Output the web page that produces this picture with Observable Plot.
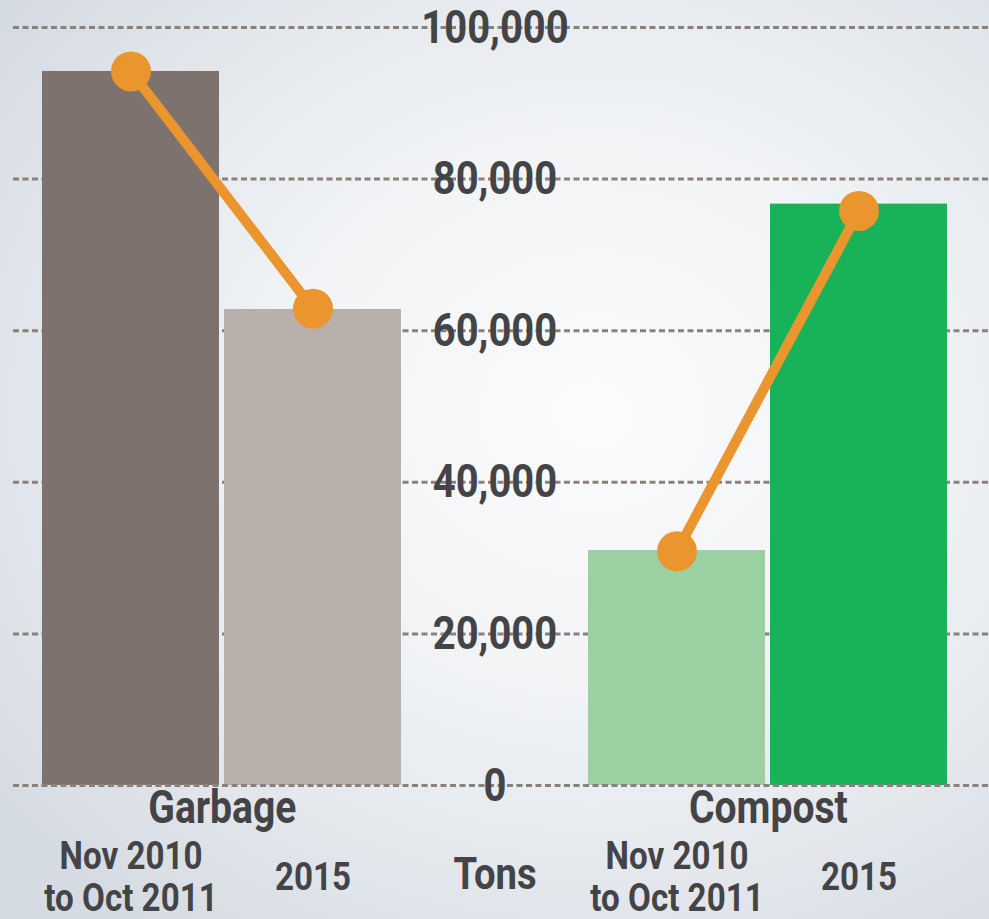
<!DOCTYPE html>
<html><head><meta charset="utf-8">
<script src="https://cdn.jsdelivr.net/npm/d3@7"></script>
<script src="https://cdn.jsdelivr.net/npm/@observablehq/plot@0.6"></script>
<style>
html,body{margin:0;padding:0;}
body{width:989px;height:919px;overflow:hidden;
background: radial-gradient(ellipse 75% 70% at 60% 45%, #fbfbfc 0%, #f2f4f6 40%, #e3e7ec 75%, #d5dbe2 100%);}
#chart svg{display:block;}
</style></head><body><div id="chart"></div>
<script>
// ---- data ----
const slots = ["g0", "g1", "mid", "c0", "c1"];
const barKeys = ["g0", "g1", "c0", "c1"];
const barGroups = ["Garbage", "Garbage", "Compost", "Compost"];
const barPeriods = ["Nov 2010\nto Oct 2011", "2015", "Nov 2010\nto Oct 2011", "2015"];
const barValues = [94200, 62800, 31000, 76700];
const dotValues = [94200, 62900, 30900, 75800];
const barColors = ["#7d726d", "#b9b0ab", "#9bd1a2", "#18b358"];
const groupKeys = ["g0", "c0"];
const groupLabels = ["Garbage", "Compost"];
const yTicks = [0, 20000, 40000, 60000, 80000, 100000];
const unitLabel = "Tons";

const bars = barKeys.map((k, i) => ({key: k, group: barGroups[i], period: barPeriods[i], value: barValues[i], dot: dotValues[i], color: barColors[i]}));
const groups = groupKeys.map((k, i) => ({key: k, label: groupLabels[i]}));

const FONT = "Roboto, 'Noto Sans', sans-serif";
const TXT = "#444447";
const W = 989, H = 919, ML = 40, MR = 41;
const step = (W - ML - MR) / (slots.length - 0.03);
const gridStyle = {stroke: "#8a817d", strokeWidth: 3, strokeDasharray: "6,3.5", insetLeft: -27, insetRight: -MR};

const chart = Plot.plot({
  width: W, height: H,
  marginLeft: ML, marginRight: MR, marginTop: 27, marginBottom: 134,
  style: {background: "transparent", overflow: "visible"},
  x: {type: "band", domain: slots, paddingInner: 0.03, paddingOuter: 0, axis: null},
  y: {domain: [0, 100000], axis: null},
  color: {type: "identity"},
  marks: [
    Plot.ruleY(yTicks.filter(d => d > 0), gridStyle),
    Plot.barY(bars, {x: "key", y: "value", fill: "color"}),
    Plot.ruleY([0], gridStyle),
    Plot.line(bars, {x: "key", y: "dot", z: "group", stroke: "#ea952e", strokeWidth: 10}),
    Plot.dot(bars, {x: "key", y: "dot", r: 20, fill: "#ea952e", stroke: null}),
    Plot.text(yTicks, {x: () => "mid", y: d => d, text: d => d3.format(",")(d), fontSize: 47, fontWeight: "bold", fontFamily: FONT, fill: TXT}),
    Plot.text(groups, {x: "key", y: () => 0, text: "label", dx: step / 2, dy: 37, lineAnchor: "bottom", fontSize: 46, fontWeight: "bold", fontFamily: FONT, fill: TXT}),
    Plot.text(bars, {x: "key", y: () => 0, text: "period", dy: 91, lineAnchor: "middle", lineHeight: 1.08, fontSize: 39, fontWeight: "bold", fontFamily: FONT, fill: TXT}),
    Plot.text([unitLabel], {x: () => "mid", y: () => 0, text: d => d, dy: 103, lineAnchor: "bottom", fontSize: 45, fontWeight: "bold", fontFamily: FONT, fill: TXT})
  ]
});
document.getElementById("chart").appendChild(chart);
// condense glyphs horizontally around each label's own centre (the original uses a condensed face)
chart.querySelectorAll("text").forEach(t => {
  const b = t.getBBox();
  const cx = b.x + b.width / 2;
  const tr = t.getAttribute("transform") || "";
  t.setAttribute("transform", `${tr} translate(${cx},0) scale(0.85,1) translate(${-cx},0)`.trim());
});
</script>
</body></html>
